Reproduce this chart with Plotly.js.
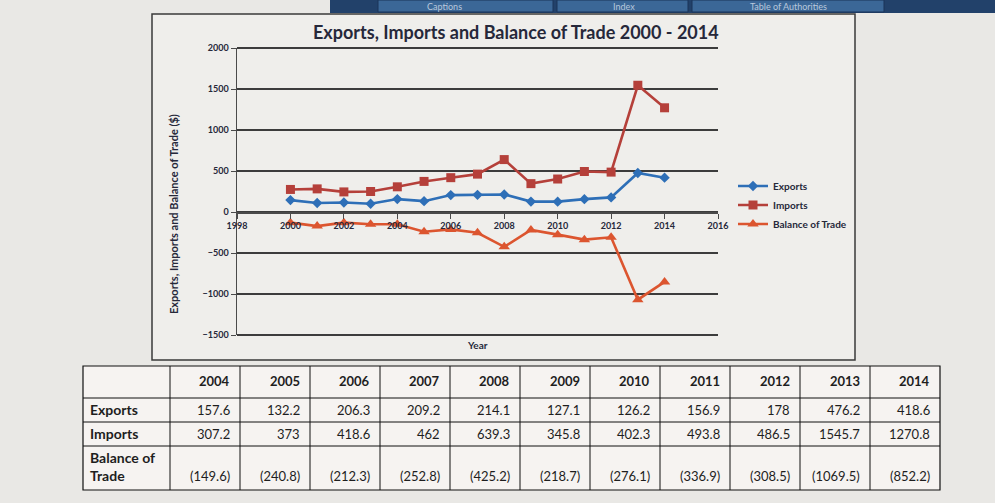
<!DOCTYPE html>
<html>
<head>
<meta charset="utf-8">
<script src="https://cdn.plot.ly/plotly-3.0.1.min.js"></script>
<style>
  html, body { margin: 0; padding: 0; background: #e9e8e5; }
  #chart { width: 995px; height: 503px; }
</style>
</head>
<body>
<div id="chart"></div>
<script>
// ---- data ----
const years = [2000, 2001, 2002, 2003, 2004, 2005, 2006, 2007, 2008, 2009, 2010, 2011, 2012, 2013, 2014];
const exportsVals = [145, 110, 115, 100, 157.6, 132.2, 206.3, 209.2, 214.1, 127.1, 126.2, 156.9, 178, 476.2, 418.6];
const importsVals = [275, 282, 245, 250, 307.2, 373, 418.6, 462, 639.3, 345.8, 402.3, 493.8, 486.5, 1545.7, 1270.8];
const balanceVals = [-130, -172, -130, -150, -149.6, -240.8, -212.3, -252.8, -425.2, -218.7, -276.1, -336.9, -308.5, -1069.5, -852.2];
const seriesNames = ['Exports', 'Imports', 'Balance of Trade'];
const tableRowLabels = ['Exports', 'Imports', 'Balance of<br>Trade'];
const tableFirstYear = 2004;
const tabLabels = ['Captions', 'Index', 'Table of Authorities'];

// ---- layout helpers (pixel -> paper) ----
const W = 995, H = 503;
const px = x => x / W;
const py = y => 1 - y / H;
const FONT = 'Lato, "Open Sans", sans-serif';
const INK = '#26283a';

const yRange = [-1500, 2000];
const plotDomX = [px(237), px(718)];
const plotDomY = [py(335), py(48)];
const zeroPos = plotDomY[0] + (0 - yRange[0]) / (yRange[1] - yRange[0]) * (plotDomY[1] - plotDomY[0]);

const colors = ['#2e6fb7', '#b5403a', '#dc552f'];
const symbols = ['diamond', 'square', 'triangle-up'];
const sizes = [8, 9, 10];
const vals = [exportsVals, importsVals, balanceVals];

const traces = vals.map((v, i) => ({
  type: 'scatter', mode: 'lines+markers',
  x: years, y: v, name: seriesNames[i],
  line: { color: colors[i], width: 2.6 },
  marker: { color: colors[i], symbol: symbols[i], size: sizes[i] },
  xaxis: 'x', yaxis: 'y'
}));

const shapes = [
  // chart panel
  { type: 'rect', xref: 'paper', yref: 'paper', x0: px(152), x1: px(855), y0: py(360), y1: py(14),
    fillcolor: '#efeeeb', line: { color: '#3a3a3a', width: 1.5 }, layer: 'below' },
  // top ribbon band
  { type: 'rect', xref: 'paper', yref: 'paper', x0: px(330), x1: 1, y0: py(13), y1: 1,
    fillcolor: '#22416a', line: { width: 0 }, layer: 'below' }
];
const tabEdges = [[378, 553], [557, 688], [692, 884]];
tabEdges.forEach(e => shapes.push({
  type: 'rect', xref: 'paper', yref: 'paper', x0: px(e[0]), x1: px(e[1]), y0: py(12), y1: 1,
  fillcolor: '#3b6797', line: { color: '#1b3558', width: 1 }, layer: 'below'
}));
// gridlines at the range edges (Plotly omits them)
[plotDomY[0], plotDomY[1]].forEach(v => shapes.push({
  type: 'line', xref: 'paper', yref: 'paper', x0: plotDomX[0], x1: plotDomX[1], y0: v, y1: v,
  line: { color: '#3c3c3c', width: 2 }, layer: 'below'
}));

const annotations = [
  { text: '<b>Exports, Imports and Balance of Trade 2000 - 2014</b>', xref: 'paper', yref: 'paper',
    x: px(516), y: py(32), xanchor: 'center', yanchor: 'middle', showarrow: false,
    font: { family: FONT, size: 18, color: INK } },
  { text: '<b>Exports, Imports and Balance of Trade ($)</b>', xref: 'paper', yref: 'paper',
    x: px(173), y: py(214), xanchor: 'center', yanchor: 'middle', textangle: -90, showarrow: false,
    font: { family: FONT, size: 11, color: INK } },
  { text: '<b>Year</b>', xref: 'paper', yref: 'paper',
    x: px(477), y: py(345), xanchor: 'center', yanchor: 'middle', showarrow: false,
    font: { family: FONT, size: 10, color: INK } }
];
const tabCenters = [444, 624, 788];
tabLabels.forEach((t, i) => annotations.push({
  text: t, xref: 'paper', yref: 'paper', x: px(tabCenters[i]), y: py(6), xanchor: 'center', yanchor: 'middle',
  showarrow: false, font: { family: FONT, size: 9, color: '#b9c8dc' }
}));

// ---- data table (grid + texts built from the arrays) ----
const startIdx = years.indexOf(tableFirstYear);
const tYears = years.slice(startIdx);
const fmtBal = v => '(' + Math.abs(v).toFixed(1) + ')';
const tLeft = 83, tLabelRight = 170, tColW = 70;
const tRight = tLabelRight + tYears.length * tColW;
const rowEdges = [366, 398, 422, 446, 490];
const tableInk = '#1e1e1e';

shapes.push({ type: 'rect', xref: 'paper', yref: 'paper', x0: px(tLeft), x1: px(tRight),
  y0: py(rowEdges[rowEdges.length - 1]), y1: py(rowEdges[0]),
  fillcolor: '#f6f3f1', line: { color: '#111', width: 1.2 }, layer: 'below' });
rowEdges.slice(1, -1).forEach(r => shapes.push({ type: 'line', xref: 'paper', yref: 'paper',
  x0: px(tLeft), x1: px(tRight), y0: py(r), y1: py(r), line: { color: '#111', width: 1 }, layer: 'below' }));
for (let k = 0; k < tYears.length; k++) {
  const xe = tLabelRight + k * tColW;
  shapes.push({ type: 'line', xref: 'paper', yref: 'paper', x0: px(xe), x1: px(xe),
    y0: py(rowEdges[rowEdges.length - 1]), y1: py(rowEdges[0]), line: { color: '#111', width: 1 }, layer: 'below' });
}
const cellText = (t, xr, ybottom, bold, size, xanchor) => annotations.push({
  text: bold ? '<b>' + t + '</b>' : t, xref: 'paper', yref: 'paper',
  x: px(xr), y: py(ybottom), xanchor: xanchor || 'right', yanchor: 'bottom', showarrow: false, align: 'left',
  font: { family: FONT, size: size, color: tableInk }
});
tYears.forEach((y, k) => {
  const i = startIdx + k;
  const xr = tLabelRight + (k + 1) * tColW - 8;
  cellText(String(y), xr, rowEdges[1] - 7, true, 13);
  cellText(String(exportsVals[i]), xr, rowEdges[2] - 2, false, 13);
  cellText(String(importsVals[i]), xr, rowEdges[3] - 2, false, 13);
  cellText(fmtBal(balanceVals[i]), xr, rowEdges[4] - 4, false, 13);
});
tableRowLabels.forEach((lab, r) => cellText(lab, tLeft + 5, rowEdges[r + 2] - (r === 2 ? 4 : 2), true, 14, 'left'));

const axisFont = { family: FONT, size: 9, color: INK, weight: 'bold' };

const layout = {
  width: W, height: H,
  margin: { l: 0, r: 0, t: 0, b: 0 },
  paper_bgcolor: '#e9e8e5',
  plot_bgcolor: 'rgba(0,0,0,0)',
  showlegend: true,
  legend: {
    x: px(733), y: py(205), xanchor: 'left', yanchor: 'middle',
    bgcolor: 'rgba(0,0,0,0)', tracegroupgap: 0,
    font: { family: FONT, size: 10, color: INK, weight: 'bold' }
  },
  xaxis: {
    domain: plotDomX, range: [1998, 2016], tick0: 1998, dtick: 2,
    anchor: 'free', position: zeroPos,
    showline: true, linecolor: '#4a4a4a', linewidth: 1.5,
    ticks: 'outside', ticklen: 5, tickcolor: '#4a4a4a',
    showgrid: false, zeroline: false, tickfont: axisFont
  },
  yaxis: {
    domain: plotDomY, range: yRange, tick0: -1500, dtick: 500,
    showline: true, linecolor: '#4a4a4a', linewidth: 1.5,
    ticks: 'outside', ticklen: 5, tickcolor: '#4a4a4a',
    showgrid: true, gridcolor: '#3c3c3c', gridwidth: 2,
    zeroline: false, tickfont: axisFont
  },
  shapes: shapes,
  annotations: annotations
};

Plotly.newPlot('chart', traces, layout, { displayModeBar: false, staticPlot: true });
</script>
</body>
</html>
